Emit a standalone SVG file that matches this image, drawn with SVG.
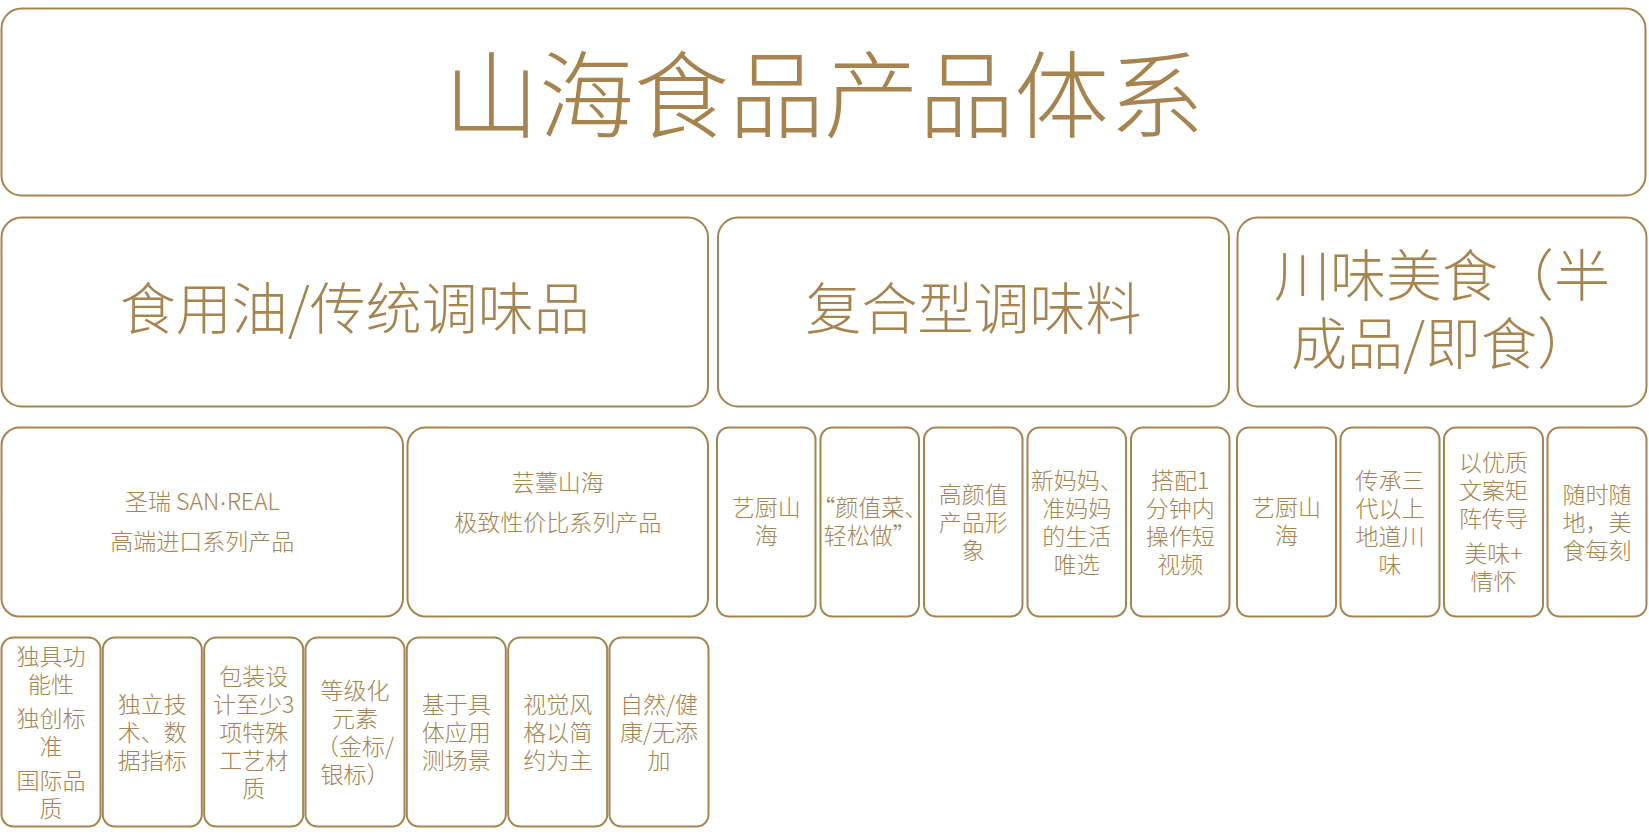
<svg xmlns="http://www.w3.org/2000/svg" width="1649" height="838" viewBox="0 0 1649 838">
<style>
.box{fill:#fff;stroke:#A5844F;stroke-width:2}
.t{font-family:"Noto Sans CJK SC","Noto Sans",sans-serif;font-weight:300;fill:#A5844F;text-anchor:middle}
.s{font-size:23px}
.m{font-size:56px}
.l{font-size:95px}
.dot{font-family:"Liberation Sans",sans-serif}
</style>
<rect width="1649" height="838" fill="#fff"/>
<g id="connectors"/>
<g id="title">
<rect class="box" x="1.5" y="8.5" width="1644" height="187" rx="20"/>
<text class="t l" x="824" y="131">山海食品产品体系</text>
</g>
<g id="cat-oil">
<rect class="box" x="1.5" y="217.5" width="706.5" height="189" rx="20"/>
<text class="t m" x="354.8" y="329">食用油/传统调味品</text>
</g>
<g id="cat-compound">
<rect class="box" x="718" y="217.5" width="511" height="189" rx="20"/>
<text class="t m" x="973.5" y="329">复合型调味料</text>
</g>
<g id="cat-sichuan">
<rect class="box" x="1237.5" y="217.5" width="409" height="189" rx="20"/>
<text class="t m" x="1442" y="296">川味美食（半</text>
<text class="t m" x="1442" y="364">成品/即食）</text>
</g>
<g id="brand-sanreal">
<rect class="box" x="1.5" y="427.5" width="401.5" height="189" rx="18"/>
<text class="t s" x="202.3" y="510">圣瑞 SAN<tspan class="dot">·</tspan>REAL</text>
<text class="t s" x="202.3" y="549.5">高端进口系列产品</text>
</g>
<g id="brand-yuntai">
<rect class="box" x="407.5" y="427.5" width="300.5" height="189" rx="18"/>
<text class="t s" x="557.8" y="490.5">芸薹山海</text>
<text class="t s" x="557.8" y="530.5">极致性价比系列产品</text>
</g>
<g id="c1">
<rect class="box" x="717" y="427.5" width="98.5" height="189" rx="12"/>
<text class="t s" x="766.25" y="515.5">艺厨山</text>
<text class="t s" x="766.25" y="543.5">海</text>
</g>
<g id="c2">
<rect class="box" x="820.5" y="427.5" width="98.5" height="189" rx="12"/>
<text class="t s" x="869.75" y="515.5">“颜值菜、</text>
<text class="t s" x="869.75" y="543.5">轻松做”</text>
</g>
<g id="c3">
<rect class="box" x="924" y="427.5" width="98.5" height="189" rx="12"/>
<text class="t s" x="973.25" y="502.5">高颜值</text>
<text class="t s" x="973.25" y="530.5">产品形</text>
<text class="t s" x="973.25" y="558.5">象</text>
</g>
<g id="c4">
<rect class="box" x="1027.5" y="427.5" width="98.5" height="189" rx="12"/>
<text class="t s" x="1076.75" y="488.5">新妈妈、</text>
<text class="t s" x="1076.75" y="516.5">准妈妈</text>
<text class="t s" x="1076.75" y="544.5">的生活</text>
<text class="t s" x="1076.75" y="572.5">唯选</text>
</g>
<g id="c5">
<rect class="box" x="1131" y="427.5" width="98.5" height="189" rx="12"/>
<text class="t s" x="1180.25" y="488.5">搭配1</text>
<text class="t s" x="1180.25" y="516.5">分钟内</text>
<text class="t s" x="1180.25" y="544.5">操作短</text>
<text class="t s" x="1180.25" y="572.5">视频</text>
</g>
<g id="s1">
<rect class="box" x="1237" y="427.5" width="99" height="189" rx="12"/>
<text class="t s" x="1286.5" y="515.5">艺厨山</text>
<text class="t s" x="1286.5" y="543.5">海</text>
</g>
<g id="s2">
<rect class="box" x="1340.5" y="427.5" width="99" height="189" rx="12"/>
<text class="t s" x="1390" y="488.5">传承三</text>
<text class="t s" x="1390" y="516.5">代以上</text>
<text class="t s" x="1390" y="544.5">地道川</text>
<text class="t s" x="1390" y="572.5">味</text>
</g>
<g id="s3">
<rect class="box" x="1444" y="427.5" width="99" height="189" rx="12"/>
<text class="t s" x="1493.5" y="470.5">以优质</text>
<text class="t s" x="1493.5" y="498.5">文案矩</text>
<text class="t s" x="1493.5" y="526.5">阵传导</text>
<text class="t s" x="1493.5" y="561.5">美味+</text>
<text class="t s" x="1493.5" y="589.5">情怀</text>
</g>
<g id="s4">
<rect class="box" x="1547.5" y="427.5" width="99" height="189" rx="12"/>
<text class="t s" x="1597" y="502.5">随时随</text>
<text class="t s" x="1597" y="530.5">地，美</text>
<text class="t s" x="1597" y="558.5">食每刻</text>
</g>
<g id="f1">
<rect class="box" x="1.5" y="637.5" width="99" height="189" rx="12"/>
<text class="t s" x="51" y="664.5">独具功</text>
<text class="t s" x="51" y="692.5">能性</text>
<text class="t s" x="51" y="726.5">独创标</text>
<text class="t s" x="51" y="754.5">准</text>
<text class="t s" x="51" y="788.5">国际品</text>
<text class="t s" x="51" y="816.5">质</text>
</g>
<g id="f2">
<rect class="box" x="102.8" y="637.5" width="99" height="189" rx="12"/>
<text class="t s" x="152.3" y="712.5">独立技</text>
<text class="t s" x="152.3" y="740.5">术、数</text>
<text class="t s" x="152.3" y="768.5">据指标</text>
</g>
<g id="f3">
<rect class="box" x="204.2" y="637.5" width="99" height="189" rx="12"/>
<text class="t s" x="253.7" y="684.5">包装设</text>
<text class="t s" x="253.7" y="712.5">计至少3</text>
<text class="t s" x="253.7" y="740.5">项特殊</text>
<text class="t s" x="253.7" y="768.5">工艺材</text>
<text class="t s" x="253.7" y="796.5">质</text>
</g>
<g id="f4">
<rect class="box" x="305.5" y="637.5" width="99" height="189" rx="12"/>
<text class="t s" x="355" y="698.5">等级化</text>
<text class="t s" x="355" y="726.5">元素</text>
<text class="t s" x="355" y="754.5">（金标/</text>
<text class="t s" x="355" y="782.5">银标）</text>
</g>
<g id="f5">
<rect class="box" x="406.8" y="637.5" width="99" height="189" rx="12"/>
<text class="t s" x="456.3" y="712.5">基于具</text>
<text class="t s" x="456.3" y="740.5">体应用</text>
<text class="t s" x="456.3" y="768.5">测场景</text>
</g>
<g id="f6">
<rect class="box" x="508.2" y="637.5" width="99" height="189" rx="12"/>
<text class="t s" x="557.7" y="712.5">视觉风</text>
<text class="t s" x="557.7" y="740.5">格以简</text>
<text class="t s" x="557.7" y="768.5">约为主</text>
</g>
<g id="f7">
<rect class="box" x="609.5" y="637.5" width="99" height="189" rx="12"/>
<text class="t s" x="659" y="712.5">自然/健</text>
<text class="t s" x="659" y="740.5">康/无添</text>
<text class="t s" x="659" y="768.5">加</text>
</g>
</svg>
